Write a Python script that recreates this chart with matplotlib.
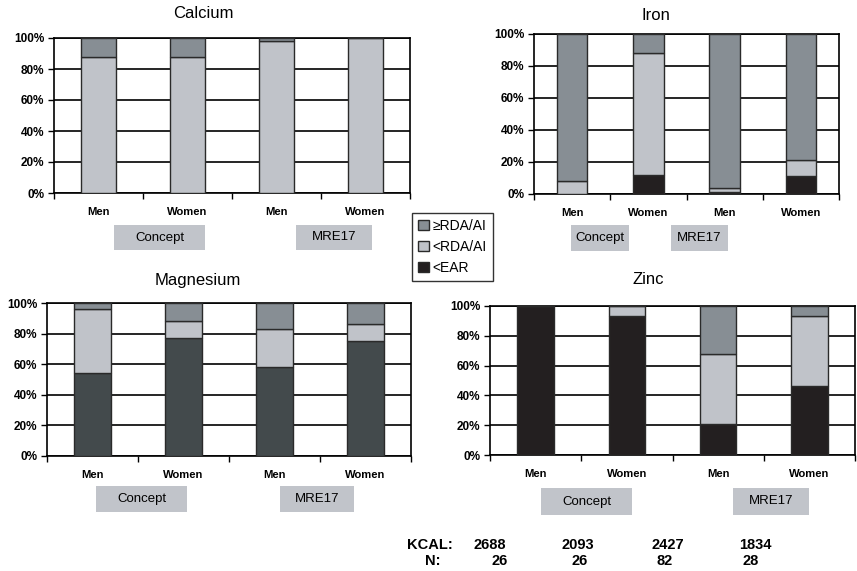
import matplotlib
matplotlib.use("Agg")
import matplotlib.pyplot as plt
from matplotlib.patches import Rectangle, Patch
from matplotlib.ticker import FixedLocator, PercentFormatter

plt.rcParams['font.family'] = ['Liberation Sans', 'DejaVu Sans']

# ---- data (% of group) ----
categories = ["Men", "Women", "Men", "Women"]
groups = ["Concept", "MRE17"]

calcium_ear = [0, 0, 0, 0]
calcium_below_rda = [88, 88, 98, 100]
calcium_above_rda = [12, 12, 2, 0]

iron_ear = [0, 12, 1, 11]
iron_below_rda = [8, 76, 3, 10]
iron_above_rda = [92, 12, 96, 79]

magnesium_ear = [54, 77, 58, 75]
magnesium_below_rda = [42, 11, 25, 11]
magnesium_above_rda = [4, 12, 17, 14]

zinc_ear = [100, 93, 21, 46]
zinc_below_rda = [0, 7, 47, 47]
zinc_above_rda = [0, 0, 32, 7]

kcal = [2688, 2093, 2427, 1834]
n_subjects = [26, 26, 82, 28]

legend_labels = ["\u2265RDA/AI", "<RDA/AI", "<EAR"]

# ---- styling ----
C_ABOVE = "#878e94"
C_BELOW = "#c0c3c9"
C_EAR = "#231f20"
C_EAR_MG = "#434a4c"
C_BOX = "#c1c4ca"
EDGE = "#2a2a2a"

W, H = 857, 571
fig = plt.figure(figsize=(W / 100, H / 100), dpi=100)


def px_rect(left, top, right, bottom):
    return [left / W, 1 - bottom / H, (right - left) / W, (bottom - top) / H]


def group_box(left, top, right, bottom, label):
    fig.patches.append(Rectangle((left / W, 1 - bottom / H), (right - left) / W,
                                 (bottom - top) / H, transform=fig.transFigure,
                                 facecolor=C_BOX, edgecolor="none"))
    fig.text((left + right) / 2 / W, 1 - (top + bottom) / 2 / H, label,
             ha="center", va="center", fontsize=9.5)


def panel(rect, title, ear, below, above, ear_color, title_xy, boxes):
    ax = fig.add_axes(px_rect(*rect))
    x = [i + 0.5 for i in range(len(categories))]
    kw = dict(width=0.4, edgecolor=EDGE, linewidth=1.0, zorder=3)
    ax.bar(x, ear, color=ear_color, **kw)
    ax.bar(x, below, bottom=ear, color=C_BELOW, **kw)
    base = [a + b for a, b in zip(ear, below)]
    ax.bar(x, above, bottom=base, color=C_ABOVE, **kw)
    ax.set_xlim(0, 4)
    ax.set_ylim(0, 100)
    ax.yaxis.set_major_locator(FixedLocator([0, 20, 40, 60, 80, 100]))
    ax.yaxis.set_major_formatter(PercentFormatter(decimals=0))
    ax.set_xticks([0, 1, 2, 3, 4])
    ax.set_xticklabels([])
    ax.grid(axis="y", color="black", linewidth=1.2, zorder=0)
    for s in ax.spines.values():
        s.set_color("black")
        s.set_linewidth(1.2)
    ax.tick_params(axis="both", direction="out", length=4, width=1.0,
                   labelsize=8.5, color="black", pad=3)
    for lab in ax.get_yticklabels():
        lab.set_fontweight("bold")
    for xi, cat in zip(x, categories):
        ax.annotate(cat, (xi, 0), xytext=(0, -19), textcoords="offset pixels",
                    ha="center", va="center", fontsize=8.1, fontweight="bold")
    fig.text(title_xy[0] / W, 1 - title_xy[1] / H, title, ha="center",
             va="center", fontsize=12)
    for b, g in zip(boxes, groups):
        group_box(*b, g)
    return ax


panel((54, 38, 410, 193), "Calcium", calcium_ear, calcium_below_rda,
      calcium_above_rda, C_EAR, (203, 14),
      [(114, 225, 205, 250), (296, 225, 372, 250)])
panel((534, 34, 839, 194), "Iron", iron_ear, iron_below_rda,
      iron_above_rda, C_EAR, (656, 15),
      [(571, 225, 629, 251), (671, 225, 728, 251)])
panel((47, 303, 411, 456), "Magnesium", magnesium_ear, magnesium_below_rda,
      magnesium_above_rda, C_EAR_MG, (198, 281),
      [(96, 486, 187, 512), (280, 486, 354, 512)])
panel((490, 306, 855, 455), "Zinc", zinc_ear, zinc_below_rda,
      zinc_above_rda, C_EAR, (648, 279),
      [(541, 488, 632, 515), (733, 488, 809, 515)])

# legend
handles = [Patch(facecolor=c, edgecolor=EDGE, linewidth=1.0)
           for c in (C_ABOVE, C_BELOW, C_EAR)]
leg = fig.legend(handles, legend_labels, loc="upper left",
                 bbox_to_anchor=(412 / W, 1 - 213 / H), frameon=True,
                 fancybox=False, edgecolor="black", fontsize=10,
                 handlelength=0.75, handleheight=0.75, handletextpad=0.3,
                 labelspacing=0.5, borderpad=0.45, borderaxespad=0)
leg.get_frame().set_linewidth(1.0)

# energy intake and sample sizes
fig.text(453 / W, 1 - 545 / H, "KCAL:", ha="right", va="center",
         fontsize=10.5, fontweight="bold")
fig.text(441 / W, 1 - 561 / H, "N:", ha="right", va="center",
         fontsize=10.5, fontweight="bold")
kcal_x = [473, 561, 652, 739]
n_x = [508, 588, 673, 759]
for k, xk in zip(kcal, kcal_x):
    fig.text(xk / W, 1 - 545 / H, str(k), ha="left", va="center",
             fontsize=10.5, fontweight="bold")
for n, xn in zip(n_subjects, n_x):
    fig.text(xn / W, 1 - 561 / H, str(n), ha="right", va="center",
             fontsize=10.5, fontweight="bold")

fig.savefig("out.png", dpi=100)
